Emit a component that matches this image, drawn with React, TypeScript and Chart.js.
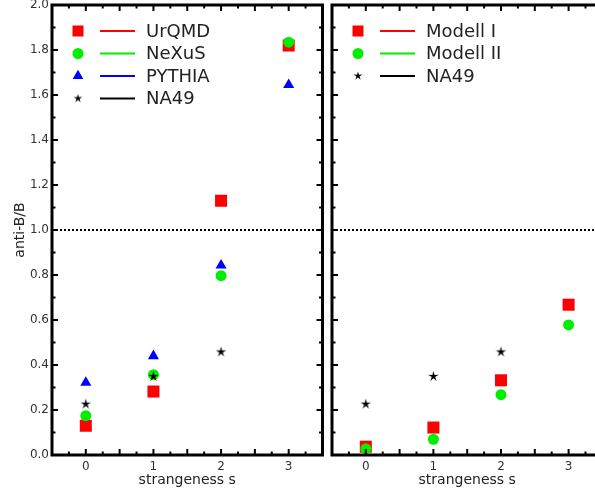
import React, { useEffect, useRef } from 'react';
import { Chart, registerables } from 'chart.js';

Chart.register(...registerables);

// ---- data ----
const sValues = [0, 1, 2, 3];
const xTickValues = [0, 1, 2, 3];
const yTickValues = [0, 0.2, 0.4, 0.6, 0.8, 1.0, 1.2, 1.4, 1.6, 1.8, 2.0];

const urqmd = [0.13, 0.282, 1.13, 1.82];
const nexus = [0.175, 0.357, 0.797, 1.835];
const pythia = [0.322, 0.44, 0.843, 1.645];
const na49 = [0.226, 0.349, 0.458];
const modell1 = [0.037, 0.122, 0.332, 0.668];
const modell2 = [0.028, 0.07, 0.268, 0.578];
const referenceValue = 1.0;

const leftLabels = ['UrQMD', 'NeXuS', 'PYTHIA', 'NA49'];
const rightLabels = ['Modell I', 'Modell II', 'NA49'];

const RED = '#ff0000';
const GREEN = '#00ee00';
const BLUE = '#0000ff';
const BLACK = '#000000';
const FONT = "'DejaVu Sans', 'Liberation Sans', sans-serif";

function makeStar(outer: number, inner: number): HTMLCanvasElement {
  const size = Math.ceil(outer * 2 + 2);
  const c = document.createElement('canvas');
  c.width = size;
  c.height = size;
  const ctx = c.getContext('2d') as CanvasRenderingContext2D;
  ctx.fillStyle = BLACK;
  ctx.beginPath();
  for (let i = 0; i < 10; i++) {
    const r = i % 2 === 0 ? outer : inner;
    const a = -Math.PI / 2 + (i * Math.PI) / 5;
    const px = size / 2 + r * Math.cos(a);
    const py = size / 2 + r * Math.sin(a);
    if (i === 0) ctx.moveTo(px, py);
    else ctx.lineTo(px, py);
  }
  ctx.closePath();
  ctx.fill();
  return c;
}

function toPoints(vals: number[]) {
  return vals.map((v, i) => ({ x: sValues[i], y: v }));
}

type LegendEntry = { label: string; kind: string; color: string };

function drawMarker(ctx: CanvasRenderingContext2D, kind: string, color: string, x: number, y: number, star: HTMLCanvasElement) {
  ctx.save();
  ctx.fillStyle = color;
  if (kind === 'rect') {
    ctx.fillRect(x - 5.5, y - 5.5, 11, 11);
  } else if (kind === 'circle') {
    ctx.beginPath();
    ctx.arc(x, y, 5.5, 0, Math.PI * 2);
    ctx.fill();
  } else if (kind === 'triangle') {
    const r = 6.2;
    ctx.beginPath();
    ctx.moveTo(x, y - r);
    ctx.lineTo(x + 0.866 * r, y + 0.5 * r);
    ctx.lineTo(x - 0.866 * r, y + 0.5 * r);
    ctx.closePath();
    ctx.fill();
  } else if (kind === 'star') {
    ctx.drawImage(star, x - star.width / 2, y - star.height / 2);
  }
  ctx.restore();
}

function makePanelPlugin(entries: LegendEntry[]) {
  const legendStar = makeStar(4.6, 1.6);
  return {
    id: 'panelDecor',
    beforeDatasetsDraw(chart: any) {
      const { ctx, chartArea } = chart;
      const y = chart.scales.y.getPixelForValue(referenceValue);
      ctx.save();
      ctx.strokeStyle = BLACK;
      ctx.lineWidth = 2;
      ctx.setLineDash([2, 2]);
      ctx.beginPath();
      ctx.moveTo(chartArea.left, y);
      ctx.lineTo(chartArea.right, y);
      ctx.stroke();
      ctx.restore();
    },
    afterDraw(chart: any) {
      const { ctx, chartArea } = chart;
      const { left, right, top, bottom } = chartArea;
      const xs = chart.scales.x;
      const ys = chart.scales.y;
      ctx.save();
      ctx.strokeStyle = BLACK;
      ctx.lineWidth = 2;
      // x ticks every 0.25, major every 0.5
      for (let i = 0; i <= 16; i++) {
        const v = xs.min + i * 0.25;
        const px = xs.getPixelForValue(v);
        const len = i % 2 === 0 ? 6 : 3.5;
        ctx.beginPath();
        ctx.moveTo(px, bottom);
        ctx.lineTo(px, bottom - len);
        ctx.moveTo(px, top);
        ctx.lineTo(px, top + len);
        ctx.stroke();
      }
      // y ticks every 0.1, major every 0.2
      for (let i = 0; i <= 20; i++) {
        const v = ys.min + i * 0.1;
        const py = ys.getPixelForValue(v);
        const len = i % 2 === 0 ? 6 : 3.5;
        ctx.beginPath();
        ctx.moveTo(left, py);
        ctx.lineTo(left + len, py);
        ctx.moveTo(right, py);
        ctx.lineTo(right - len, py);
        ctx.stroke();
      }
      // frame
      ctx.lineWidth = 3;
      ctx.strokeRect(left, top, right - left, bottom - top);
      ctx.restore();

      // legend
      ctx.save();
      entries.forEach((e, i) => {
        const cy = top + 26 + i * 22.5;
        drawMarker(ctx, e.kind, e.color, left + 26, cy, legendStar);
        ctx.strokeStyle = e.color;
        ctx.lineWidth = 2;
        ctx.beginPath();
        ctx.moveTo(left + 48, cy);
        ctx.lineTo(left + 83, cy);
        ctx.stroke();
        ctx.fillStyle = '#222222';
        ctx.font = `18px ${FONT}`;
        ctx.textBaseline = 'middle';
        ctx.textAlign = 'left';
        ctx.fillText(e.label, left + 94, cy + 1);
      });
      ctx.restore();
    },
  };
}

function buildOptions(showY: boolean, padding: any) {
  return {
    animation: false,
    responsive: false,
    events: [],
    layout: { padding, autoPadding: false },
    plugins: { legend: { display: false }, tooltip: { enabled: false } },
    scales: {
      x: {
        type: 'linear',
        min: -0.5,
        max: 3.5,
        afterBuildTicks: (s: any) => {
          s.ticks = xTickValues.map((v) => ({ value: v }));
        },
        afterFit: (s: any) => {
          s.height = 40;
          s.paddingLeft = 0;
          s.paddingRight = 0;
          s.paddingTop = 0;
          s.paddingBottom = 0;
        },
        grid: { display: false, drawTicks: false },
        border: { display: false },
        ticks: {
          padding: 5,
          color: '#333333',
          font: { family: FONT, size: 12 },
          maxRotation: 0,
          callback: (v: any) => String(v),
        },
        title: {
          display: true,
          text: 'strangeness s',
          color: '#222222',
          font: { family: FONT, size: 14 },
          padding: { top: 0, bottom: 6 },
        },
      },
      y: {
        type: 'linear',
        display: showY,
        min: 0,
        max: 2,
        afterBuildTicks: (s: any) => {
          s.ticks = yTickValues.map((v) => ({ value: v }));
        },
        afterFit: (s: any) => {
          s.width = showY ? 52 : 0;
          s.paddingLeft = 0;
          s.paddingRight = 0;
          s.paddingTop = 0;
          s.paddingBottom = 0;
        },
        grid: { display: false, drawTicks: false },
        border: { display: false },
        ticks: {
          padding: 3,
          color: '#333333',
          font: { family: FONT, size: 12 },
          callback: (v: any) => Number(v).toFixed(1),
        },
        title: {
          display: true,
          text: 'anti-B/B',
          color: '#222222',
          font: { family: FONT, size: 14 },
          padding: { top: 12, bottom: 0 },
        },
      },
    },
  };
}

function ds(label: string, vals: number[], style: any, color: string, radius: number, order: number) {
  return {
    label,
    data: toPoints(vals),
    pointStyle: style,
    pointRadius: radius,
    pointBackgroundColor: color,
    pointBorderColor: color,
    pointBorderWidth: 0,
    backgroundColor: color,
    borderColor: color,
    showLine: false,
    clip: false,
    order,
  };
}

export default function App() {
  const leftRef = useRef<HTMLCanvasElement>(null);
  const rightRef = useRef<HTMLCanvasElement>(null);

  useEffect(() => {
    const star = makeStar(5.5, 1.8);
    const left = new Chart(leftRef.current as HTMLCanvasElement, {
      type: 'scatter',
      data: {
        datasets: [
          ds(leftLabels[0], urqmd, 'rect', RED, 8.5, 3),
          ds(leftLabels[1], nexus, 'circle', GREEN, 5.5, 2),
          ds(leftLabels[2], pythia, 'triangle', BLUE, 6.4, 1),
          ds(leftLabels[3], na49, star, BLACK, 6, 0),
        ] as any,
      },
      options: buildOptions(true, { top: 5, right: 4.5, left: 0, bottom: 0 }) as any,
      plugins: [
        makePanelPlugin([
          { label: leftLabels[0], kind: 'rect', color: RED },
          { label: leftLabels[1], kind: 'circle', color: GREEN },
          { label: leftLabels[2], kind: 'triangle', color: BLUE },
          { label: leftLabels[3], kind: 'star', color: BLACK },
        ]) as any,
      ],
    });
    const right = new Chart(rightRef.current as HTMLCanvasElement, {
      type: 'scatter',
      data: {
        datasets: [
          ds(rightLabels[0], modell1, 'rect', RED, 8.5, 3),
          ds(rightLabels[1], modell2, 'circle', GREEN, 5.5, 2),
          ds(rightLabels[2], na49, star, BLACK, 6, 0),
        ] as any,
      },
      options: buildOptions(false, { top: 5, right: 5.6, left: 6, bottom: 0 }) as any,
      plugins: [
        makePanelPlugin([
          { label: rightLabels[0], kind: 'rect', color: RED },
          { label: rightLabels[1], kind: 'circle', color: GREEN },
          { label: rightLabels[2], kind: 'star', color: BLACK },
        ]) as any,
      ],
    });
    return () => {
      left.destroy();
      right.destroy();
    };
  }, []);

  return (
    <div
      style={{
        position: 'absolute',
        left: 0,
        top: 0,
        width: 595,
        height: 495,
        overflow: 'hidden',
        background: '#ffffff',
      }}
    >
      <canvas
        ref={leftRef}
        width={327}
        height={495}
        style={{ position: 'absolute', left: 0, top: 0, width: 327, height: 495 }}
      />
      <canvas
        ref={rightRef}
        width={282}
        height={495}
        style={{ position: 'absolute', left: 326, top: 0, width: 282, height: 495 }}
      />
    </div>
  );
}
